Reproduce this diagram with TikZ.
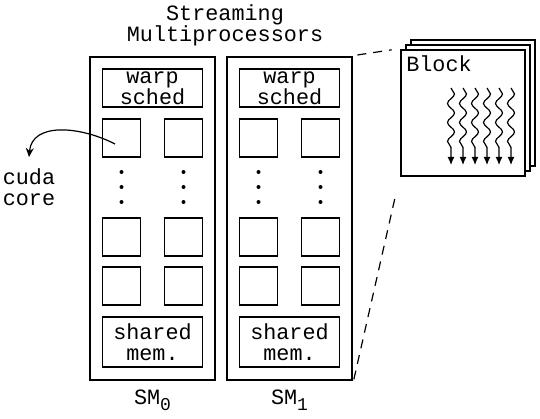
\documentclass[tikz,border=0pt]{standalone}
\usepackage{fontspec}
\setmainfont{Liberation Mono}
\usetikzlibrary{arrows.meta,decorations.pathmorphing}

\begin{document}
\begin{tikzpicture}[x=1pt,y=-1pt,
    every node/.style={font=\fontsize{21.8}{21}\selectfont, align=center},
    processor/.style={draw, line width=2.8pt, minimum width=125pt, minimum height=323pt, inner sep=0pt},
    unit/.style={draw, line width=1.2pt, minimum width=100pt, inner sep=0pt},
    core/.style={draw, line width=1.2pt, minimum size=38pt, inner sep=0pt},
    page/.style={draw, fill=white, line width=2.8pt, minimum width=124pt, minimum height=126pt, inner sep=0pt},
    thread/.style={line width=1.2pt, decorate,
      decoration={snake, segment length=19pt, amplitude=3.5pt, post length=12pt},
      -{Latex[length=8pt,width=7pt]}},
    link/.style={line width=1.2pt, dash pattern=on 9pt off 7pt}]
   \useasboundingbox (0,0) rectangle (540,419);
   \node (title) at (225,25) {Streaming\\Multiprocessors};
   % the two streaming multiprocessors
   \foreach \i/\x in {0/152.5, 1/289.5} {
     \node[processor] (sm\i) at (\x,218.5) {};
     \node[unit, minimum height=38pt] (warp\i) at (\x,88) {warp\\sched};
     \node[core] (core\i-11) at (\x-31,138) {};
     \node[core] (core\i-12) at (\x+31,138) {};
     \node[core] (core\i-21) at (\x-31,237) {};
     \node[core] (core\i-22) at (\x+31,237) {};
     \node[core] (core\i-31) at (\x-31,286) {};
     \node[core] (core\i-32) at (\x+31,286) {};
     \foreach \d in {172,187,202} {
       \fill (\x-31,\d) circle (2pt);
       \fill (\x+31,\d) circle (2pt);
     }
     \node[unit, minimum height=50pt] (shared\i) at (\x,342) {shared\\mem.};
     \node (label\i) at (\x,400) {SM\raisebox{-6pt}{\fontsize{18}{18}\selectfont\i}};
   }
   % block of threads
   \node[page] (back) at (473,103) {};
   \node[page] (middle) at (468,108) {};
   \node[page] (front) at (463,113) {};
   \node (blocklabel) at (439,64) {Block};
   \foreach \t in {0,...,5}
     \draw[thread] (451+12*\t,88) -- (451+12*\t,165);
   \draw[link, shorten <=4pt, shorten >=8pt] (sm1.north east) -- (front.north west);
   \draw[link, shorten <=2pt, shorten >=18pt] (sm1.south east) -- (front.south west);
   % cuda core pointer
   \node (cudalabel) at (29,187) {cuda\\core};
   \coordinate (tip) at (29,157);
   \draw[line width=1.2pt, -{Stealth[length=9pt,width=8pt]}]
     ([shift={(-6.5pt,-6pt)}]core0-11.center) .. controls (80,126) and (32,122) .. (tip);
\end{tikzpicture}
\end{document}
